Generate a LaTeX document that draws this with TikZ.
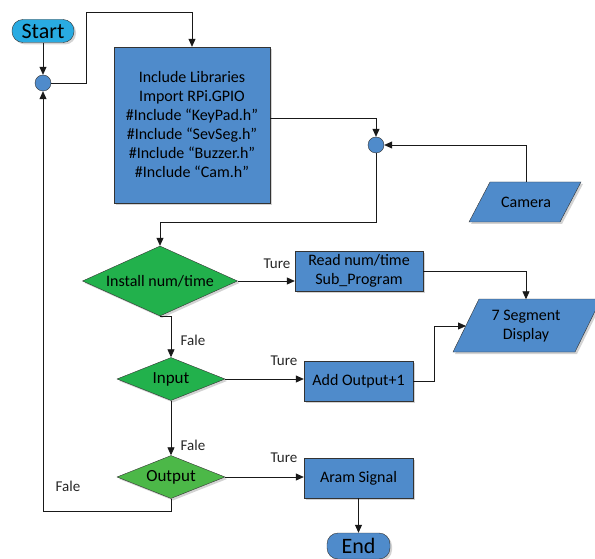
\documentclass[tikz,border=0pt]{standalone}
\usepackage{fontspec}
\setmainfont{Carlito}
\usetikzlibrary{positioning,shapes.geometric,shadows,arrows.meta}

\definecolor{boxblue}{HTML}{4F8BCB}
\definecolor{startcyan}{HTML}{29ABE2}
\definecolor{dgreen}{HTML}{22B14C}
\definecolor{lgreen}{HTML}{4CB848}
\definecolor{edge}{HTML}{333333}

\tikzset{
  shade/.style={drop shadow={shadow xshift=2pt,shadow yshift=-2pt,opacity=0.35}},
  proc/.style={draw=edge, fill=boxblue, shade, align=center, inner sep=1pt,
    font=\fontsize{16}{19}\selectfont},
  term/.style={draw=edge, rounded corners=11pt, shade, inner sep=0pt,
    font=\fontsize{22}{24}\selectfont},
  junc/.style={circle, draw=edge, fill=boxblue, minimum size=16pt, inner sep=0pt},
  dec/.style={diamond, draw=edge, fill=dgreen, shade, inner sep=1pt,
    font=\fontsize{16}{19}\selectfont},
  iobox/.style={draw=edge, fill=boxblue, shade},
  iotext/.style={align=center, inner sep=0pt, font=\fontsize{16}{19}\selectfont},
  lbl/.style={font=\fontsize{15}{17}\selectfont, text=black!85},
  arr/.style={draw=black!90, line width=0.8pt, -{Triangle[length=8pt,width=7pt]}},
  ln/.style={draw=black!90, line width=0.8pt}
}

\begin{document}
\begin{tikzpicture}[x=1pt,y=-1pt]
    \useasboundingbox (0,0) rectangle (595,559);

    \node[term, fill=startcyan, minimum width=62pt, minimum height=23pt] (start) at (43,31) {Start};
    \node[junc] (j1) at (43,83) {};
    \node[proc, minimum width=156pt, minimum height=156pt] (lib) at (192,125)
        {Include Libraries\\Import RPi.GPIO\\\#Include “KeyPad.h”\\\#Include “SevSeg.h”\\\#Include “Buzzer.h”\\\#Include “Cam.h”};
    \node[junc] (j2) at (376,145) {};

    % input / output parallelograms
    \draw[iobox] (469,222) -- (490,182) -- (581,182) -- (560,222) -- cycle;
    \node[iotext, minimum height=40pt] (cam) at (526,202) {Camera};
    \draw[iobox] (453,352) -- (479,299) -- (601,299) -- (575,352) -- cycle;
    \node[iotext, minimum height=53pt] (seg) at (526,326) {7 Segment\\Display};
    \coordinate (segin) at (466,326);

    \node[dec, aspect=2.2, minimum width=155pt, minimum height=70pt] (d1) at (160,281) {Install num/time};
    \node[proc, minimum width=128pt, minimum height=40pt] (rd) at (359,271) {Read num/time\\Sub\_Program};

    \node[dec, aspect=2.5, minimum width=108pt, minimum height=43pt, font=\fontsize{17}{19}\selectfont] (d2) at (171,379) {Input};
    \node[proc, minimum width=109pt, minimum height=40pt] (ad) at (358.5,381) {Add Output+1};

    \node[dec, fill=lgreen, aspect=2.5, minimum width=108pt, minimum height=43pt, font=\fontsize{17}{19}\selectfont] (d3) at (171,477) {Output};
    \node[proc, minimum width=109pt, minimum height=40pt] (as) at (358.5,478) {Aram Signal};
    \node[term, fill=boxblue, minimum width=63pt, minimum height=26pt] (en) at (358.5,546) {End};

    % bend points
    \coordinate (c1) at (86,12);
    \coordinate (c2) at (160,222);
    \coordinate (c3) at (434,326);
    \coordinate (c4) at (43,511);

    \draw[arr] (start) -- (j1);
    \draw[arr] (j1.east) -| (c1) -| (lib.north);
    \draw[arr] ([yshift=7pt]lib.east) -| (j2.north);
    \draw[arr] (cam.north) |- (j2.east);
    \draw[arr] (j2.south) |- (c2) -- (d1.north);
    \draw[arr] (d1.east) -- (d1.east -| rd.west);
    \draw[arr] (rd.east) -| (seg.north);
    \draw[arr] (d1.south) -| (d2.north);
    \draw[arr] (d2.east) -- (d2.east -| ad.west);
    \draw[ln] (ad.east) -| (c3);
    \draw[arr] (c3) -- (segin);
    \draw[arr] (d2.south) -- (d3.north);
    \draw[arr] (d3.east) -- (d3.east -| as.west);
    \draw[arr] (as.south) -- (en.north);
    \draw[arr] (d3.south) |- (c4) -- (j1.south);

    \node[lbl] (t1) at (277,264) {Ture};
    \node[lbl] (t2) at (284,361) {Ture};
    \node[lbl] (t3) at (284,458) {Ture};
    \node[lbl] (f1) at (193,340) {Fale};
    \node[lbl] (f2) at (193,445) {Fale};
    \node[lbl] (f3) at (68,486) {Fale};
\end{tikzpicture}
\end{document}
